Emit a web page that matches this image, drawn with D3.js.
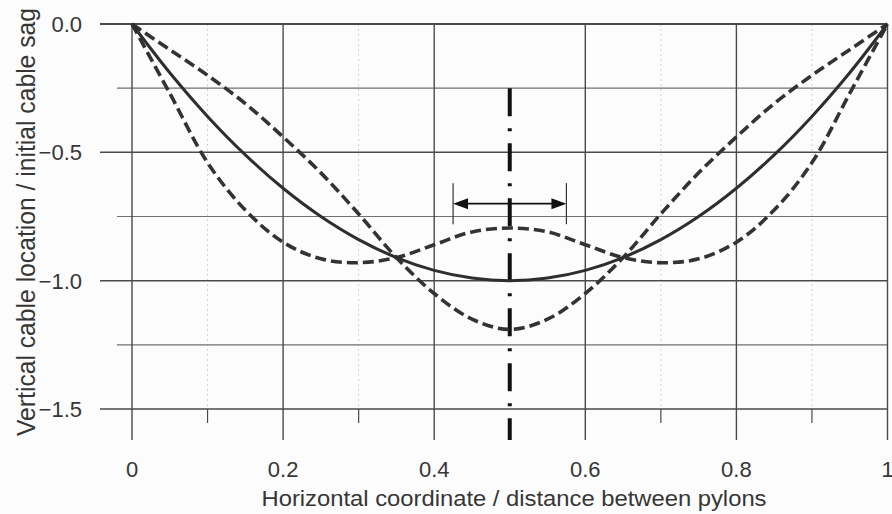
<!DOCTYPE html>
<html>
<head>
<meta charset="utf-8">
<script src="https://cdn.jsdelivr.net/npm/d3@7"></script>
<style>
  html, body { margin: 0; padding: 0; background: #fcfcfc; }
  svg { display: block; }
  text { font-family: "Liberation Sans", Arial, Helvetica, sans-serif; fill: #363636; }
</style>
</head>
<body>
<svg id="chart" width="892" height="514"></svg>
<script>
// Span positions (fraction of the distance between pylons)
const spanPos = [0, 0.05, 0.10, 0.15, 0.20, 0.25, 0.30, 0.35, 0.40, 0.45, 0.50,
                 0.55, 0.60, 0.65, 0.70, 0.75, 0.80, 0.85, 0.90, 0.95, 1.00];

// Static cable shape (solid)
const staticSag = [0, -0.19, -0.36, -0.51, -0.64, -0.75, -0.84, -0.91, -0.96, -0.99, -1.00,
                   -0.99, -0.96, -0.91, -0.84, -0.75, -0.64, -0.51, -0.36, -0.19, 0];

// Oscillating shape, phase with raised midspan (dashed)
const raisedMid = [0, -0.27, -0.54, -0.725, -0.85, -0.915, -0.93, -0.91, -0.86, -0.81, -0.795,
                   -0.81, -0.86, -0.91, -0.93, -0.915, -0.85, -0.725, -0.54, -0.27, 0];

// Oscillating shape, phase with lowered midspan (dashed)
const loweredMid = [0, -0.10, -0.20, -0.31, -0.44, -0.58, -0.74, -0.91, -1.05, -1.15, -1.19,
                    -1.15, -1.05, -0.91, -0.74, -0.58, -0.44, -0.31, -0.20, -0.10, 0];

// Axis ticks
const xMajorTicks = [0, 0.2, 0.4, 0.6, 0.8, 1];
const xTickLabels = ["0", "0.2", "0.4", "0.6", "0.8", "1"];
const xMinorTicks = [0.1, 0.3, 0.7, 0.9];
const yMajorTicks = [0, -0.5, -1.0, -1.5];
const yTickLabels = ["0.0", "\u22120.5", "\u22121.0", "\u22121.5"];
const yMinorTicks = [-0.25, -0.75, -1.25];

// Midspan marker and the width arrow around it
const midLine = { x: 0.5, top: -0.25 };
const spanArrow = { from: 0.425, to: 0.575, level: -0.70, barHalf: 0.08 };

const xTitle = "Horizontal coordinate / distance between pylons";
const yTitle = "Vertical cable location / initial cable sag";

const svg = d3.select("#chart");
const x = d3.scaleLinear().domain([0, 1]).range([132, 887.5]);
const y = d3.scaleLinear().domain([0, -1.5]).range([24, 409]);

const yBottom = y(-1.5);
const majorTickLen = 31, minorTickLen = 14;
const gridColor = "#4a4a4a";

// Faint dotted verticals at odd tenths
svg.append("g").selectAll("line").data(xMinorTicks).join("line")
  .attr("x1", d => x(d)).attr("x2", d => x(d))
  .attr("y1", y(0)).attr("y2", yBottom)
  .attr("stroke", "#d2d2d2").attr("stroke-width", 1)
  .attr("stroke-dasharray", "2,3");

// Minor tick marks below the bottom line
svg.append("g").selectAll("line").data(xMinorTicks).join("line")
  .attr("x1", d => x(d)).attr("x2", d => x(d))
  .attr("y1", yBottom).attr("y2", yBottom + minorTickLen)
  .attr("stroke", gridColor).attr("stroke-width", 1.2);

// Horizontal grid lines, minor first
svg.append("g").selectAll("line").data(yMinorTicks).join("line")
  .attr("x1", x(0) - 15).attr("x2", x(1))
  .attr("y1", d => y(d)).attr("y2", d => y(d))
  .attr("stroke", "#707070").attr("stroke-width", 1.2);

svg.append("g").selectAll("line").data(yMajorTicks).join("line")
  .attr("x1", x(0) - 32).attr("x2", x(1))
  .attr("y1", d => y(d)).attr("y2", d => y(d))
  .attr("stroke", gridColor).attr("stroke-width", d => d === 0 ? 2 : 1.5);

// Vertical grid lines, extending below the plot as major ticks
svg.append("g").selectAll("line").data(xMajorTicks).join("line")
  .attr("x1", d => x(d)).attr("x2", d => x(d))
  .attr("y1", y(0)).attr("y2", yBottom + majorTickLen)
  .attr("stroke", gridColor).attr("stroke-width", 1.4);

// Tick labels
svg.append("g").selectAll("text").data(yMajorTicks).join("text")
  .attr("x", 82).attr("y", d => y(d))
  .attr("dy", "0.36em")
  .attr("text-anchor", "end")
  .attr("font-size", 22)
  .text((d, i) => yTickLabels[i]);

svg.append("g").selectAll("text").data(xMajorTicks).join("text")
  .attr("x", d => x(d)).attr("y", 477)
  .attr("text-anchor", "middle")
  .attr("font-size", 22)
  .text((d, i) => xTickLabels[i]);

// Axis titles
svg.append("text")
  .attr("x", 514).attr("y", 506)
  .attr("text-anchor", "middle")
  .attr("font-size", 22)
  .attr("textLength", 505).attr("lengthAdjust", "spacingAndGlyphs")
  .text(xTitle);

svg.append("text")
  .attr("transform", "translate(35,222) rotate(-90)")
  .attr("text-anchor", "middle")
  .attr("font-size", 26)
  .attr("textLength", 428).attr("lengthAdjust", "spacingAndGlyphs")
  .text(yTitle);

// Midspan dash-dot line
svg.append("line")
  .attr("x1", x(midLine.x)).attr("x2", x(midLine.x))
  .attr("y1", y(midLine.top)).attr("y2", yBottom + majorTickLen)
  .attr("stroke", "#111").attr("stroke-width", 4)
  .attr("stroke-dasharray", "28,12,3,12");

// Cable shapes
const line = d3.line()
  .x((d, i) => x(spanPos[i]))
  .y(d => y(d))
  .curve(d3.curveCatmullRom.alpha(0.5));

svg.append("path").datum(raisedMid)
  .attr("d", line).attr("fill", "none")
  .attr("stroke", "#333").attr("stroke-width", 3.6)
  .attr("stroke-dasharray", "11,5");

svg.append("path").datum(loweredMid)
  .attr("d", line).attr("fill", "none")
  .attr("stroke", "#333").attr("stroke-width", 3.6)
  .attr("stroke-dasharray", "11,5");

svg.append("path").datum(staticSag)
  .attr("d", line).attr("fill", "none")
  .attr("stroke", "#2e2e2e").attr("stroke-width", 3);

// Width arrow with end bars
const ay = y(spanArrow.level);
const headLen = 15, headHalf = 5.5;
const ag = svg.append("g");
[spanArrow.from, spanArrow.to].forEach(v => {
  ag.append("line")
    .attr("x1", x(v)).attr("x2", x(v))
    .attr("y1", y(spanArrow.level + spanArrow.barHalf))
    .attr("y2", y(spanArrow.level - spanArrow.barHalf))
    .attr("stroke", "#333").attr("stroke-width", 1.2);
});
ag.append("line")
  .attr("x1", x(spanArrow.from) + headLen - 1).attr("x2", x(spanArrow.to) - headLen + 1)
  .attr("y1", ay).attr("y2", ay)
  .attr("stroke", "#111").attr("stroke-width", 1.6);
const xl = x(spanArrow.from), xr = x(spanArrow.to);
ag.append("path")
  .attr("d", `M${xl},${ay} L${xl + headLen},${ay - headHalf} L${xl + headLen},${ay + headHalf} Z`)
  .attr("fill", "#111");
ag.append("path")
  .attr("d", `M${xr},${ay} L${xr - headLen},${ay - headHalf} L${xr - headLen},${ay + headHalf} Z`)
  .attr("fill", "#111");
</script>
</body>
</html>
